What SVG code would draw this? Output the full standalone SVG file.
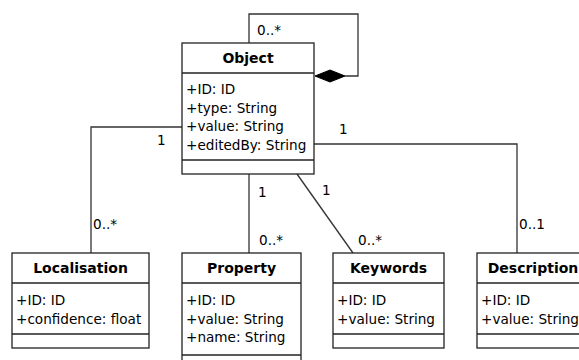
<svg xmlns="http://www.w3.org/2000/svg" width="579" height="360" viewBox="0 0 579 360">
<style>
.box{fill:#fff;stroke:#222;stroke-width:1.3}
.sep{stroke:#222;stroke-width:1.3;fill:none}
.con{stroke:#333;stroke-width:1.3;fill:none}
.title{font-family:"DejaVu Sans",Verdana,sans-serif;font-size:14px;font-weight:bold;text-anchor:middle;fill:#000}
.attr{font-family:"DejaVu Sans",Verdana,sans-serif;font-size:13.6px;fill:#000}
.lbl{font-family:"DejaVu Sans",Verdana,sans-serif;font-size:13.6px;fill:#000}
</style>
<rect width="579" height="360" fill="#fff"/>
<g id="connectors">
<polyline class="con" points="182,127 91,127 91,253"/>
<line class="con" x1="249" y1="174" x2="249" y2="253"/>
<line class="con" x1="297" y1="174" x2="353" y2="253"/>
<polyline class="con" points="314,144 517,144 517,253"/>
<polyline class="con" points="249,43 249,14 358,14 358,76 345,76"/>
<polygon points="345,76 330,70 315,76 330,82" fill="#000" stroke="#000" stroke-width="1"/>
<text class="lbl" x="257" y="35">0..*</text>
<text class="lbl" x="157" y="145">1</text>
<text class="lbl" x="93" y="229">0..*</text>
<text class="lbl" x="258" y="197">1</text>
<text class="lbl" x="259" y="245">0..*</text>
<text class="lbl" x="322" y="195">1</text>
<text class="lbl" x="358" y="245">0..*</text>
<text class="lbl" x="339" y="134">1</text>
<text class="lbl" x="519" y="229">0..1</text>
</g>
<g id="object">
<rect class="box" x="182" y="43" width="132" height="131"/>
<line class="sep" x1="182" y1="73" x2="314" y2="73"/>
<line class="sep" x1="182" y1="160" x2="314" y2="160"/>
<text class="title" x="248" y="63">Object</text>
<text class="attr" x="186" y="94">+ID: ID</text>
<text class="attr" x="186" y="112.7">+type: String</text>
<text class="attr" x="186" y="131.3">+value: String</text>
<text class="attr" x="186" y="150">+editedBy: String</text>
</g>
<g id="localisation">
<rect class="box" x="12" y="253" width="137" height="95"/>
<line class="sep" x1="12" y1="283" x2="149" y2="283"/>
<line class="sep" x1="12" y1="334" x2="149" y2="334"/>
<text class="title" x="80.5" y="273">Localisation</text>
<text class="attr" x="16" y="305">+ID: ID</text>
<text class="attr" x="16" y="323.5">+confidence: float</text>
</g>
<g id="property">
<rect class="box" x="182" y="253" width="119" height="120"/>
<line class="sep" x1="182" y1="283" x2="301" y2="283"/>
<line class="sep" x1="182" y1="355" x2="301" y2="355"/>
<text class="title" x="241.5" y="273">Property</text>
<text class="attr" x="186" y="305">+ID: ID</text>
<text class="attr" x="186" y="323.5">+value: String</text>
<text class="attr" x="186" y="342">+name: String</text>
</g>
<g id="keywords">
<rect class="box" x="333" y="253" width="111" height="95"/>
<line class="sep" x1="333" y1="283" x2="444" y2="283"/>
<line class="sep" x1="333" y1="334" x2="444" y2="334"/>
<text class="title" x="388.5" y="273">Keywords</text>
<text class="attr" x="337" y="305">+ID: ID</text>
<text class="attr" x="337" y="323.5">+value: String</text>
</g>
<g id="description">
<rect class="box" x="477" y="253" width="112" height="95"/>
<line class="sep" x1="477" y1="283" x2="589" y2="283"/>
<line class="sep" x1="477" y1="334" x2="589" y2="334"/>
<text class="title" x="533" y="273">Description</text>
<text class="attr" x="481" y="305">+ID: ID</text>
<text class="attr" x="481" y="323.5">+value: String</text>
</g>
</svg>
